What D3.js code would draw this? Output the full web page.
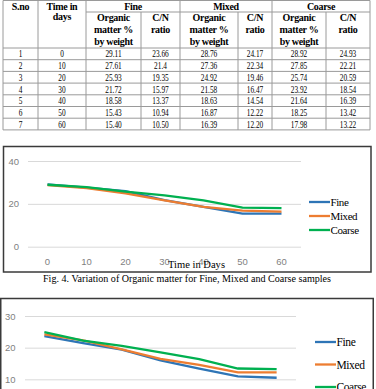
<!DOCTYPE html>
<html>
<head>
<meta charset="utf-8">
<script src="https://cdn.jsdelivr.net/npm/d3@7"></script>
<style>
  html, body { margin: 0; padding: 0; background: #fff; }
  svg { display: block; }
</style>
</head>
<body>
<svg id="page" width="376" height="389"></svg>
<script>
// table + chart values
const sno = [1, 2, 3, 4, 5, 6, 7]
const days = [0, 10, 20, 30, 40, 50, 60]
const fineOM = [29.11, 27.61, 25.93, 21.72, 18.58, 15.43, 15.40]
const fineCN = [23.66, 21.4, 19.35, 15.97, 13.37, 10.94, 10.50]
const mixedOM = [28.76, 27.36, 24.92, 21.58, 18.63, 16.87, 16.39]
const mixedCN = [24.17, 22.34, 19.46, 16.47, 14.54, 12.22, 12.20]
const coarseOM = [28.92, 27.85, 25.74, 23.92, 21.64, 18.25, 17.98]
const coarseCN = [24.93, 22.21, 20.59, 18.54, 16.39, 13.42, 13.22]
const seriesNames = ["Fine", "Mixed", "Coarse"]
const omTicks = [0, 20, 40]
const cnTicks = [10, 20, 30]

const colors = { Fine: "#2E75B6", Mixed: "#ED7D31", Coarse: "#00B050" }
const serif = "'Liberation Serif', 'Times New Roman', 'DejaVu Serif', serif"
const sans = "'Liberation Sans', Arial, sans-serif"

let svg = d3.select("#page")

/**
 * Table
 */
const colEdges = [3, 38, 86, 141, 180, 238, 272, 326, 370]
const headTop = 0.5, groupBottom = 12, headBottom = 48, rowH = 11.7
const tableBottom = headBottom + rowH * sno.length
let g_table = svg.append("g").attr("class", "table")

const cx = (i) => (colEdges[i] + colEdges[i + 1]) / 2

// lines
let vlines = colEdges.map((x, i) => {
  // inner lines between organic and C/N start below the group row
  let top = (i === 3 || i === 5 || i === 7) ? groupBottom : headTop
  return { x1: x, x2: x, y1: top, y2: tableBottom }
})
let hlines = [
  { x1: colEdges[0], x2: colEdges[8], y1: headTop, y2: headTop },
  { x1: colEdges[2], x2: colEdges[8], y1: groupBottom, y2: groupBottom },
]
for (let r = 0; r <= sno.length; r++) {
  let y = headBottom + r * rowH
  hlines.push({ x1: colEdges[0], x2: colEdges[8], y1: y, y2: y })
}
g_table.selectAll(".tline")
  .data(vlines.concat(hlines))
  .enter()
  .append("line")
  .attr("class", "tline")
  .attr("x1", (d) => d.x1).attr("x2", (d) => d.x2)
  .attr("y1", (d) => d.y1).attr("y2", (d) => d.y2)
  .attr("stroke", "#9a9a9a")
  .attr("stroke-width", 1)

// header texts
let headers = [
  { x: cx(0), y: 10, t: "S.no" },
  { x: cx(1), y: 9.5, t: "Time in" },
  { x: cx(1), y: 20, t: "days" },
  { x: (colEdges[2] + colEdges[4]) / 2, y: 9.5, t: "Fine" },
  { x: (colEdges[4] + colEdges[6]) / 2, y: 9.5, t: "Mixed" },
  { x: (colEdges[6] + colEdges[8]) / 2, y: 9.5, t: "Coarse" },
]
;[2, 4, 6].forEach((c) => {
  headers.push({ x: cx(c), y: 21, t: "Organic" })
  headers.push({ x: cx(c), y: 33, t: "matter %" })
  headers.push({ x: cx(c), y: 45, t: "by weight" })
  headers.push({ x: cx(c + 1), y: 21, t: "C/N" })
  headers.push({ x: cx(c + 1), y: 33, t: "ratio" })
})
g_table.selectAll(".thead")
  .data(headers)
  .enter()
  .append("text")
  .attr("class", "thead")
  .attr("x", (d) => d.x)
  .attr("y", (d) => d.y)
  .attr("text-anchor", "middle")
  .style("font-family", serif)
  .attr("font-weight", "bold")
  .attr("font-size", 10)
  .attr("letter-spacing", -0.3)
  .text((d) => d.t)

// body cells
const fmt = (v) => (v === 21.4 ? "21.4" : v.toFixed(2))
let cells = []
sno.forEach((s, r) => {
  let row = [String(s), String(days[r]), fmt(fineOM[r]), fmt(fineCN[r]),
    fmt(mixedOM[r]), fmt(mixedCN[r]), fmt(coarseOM[r]), fmt(coarseCN[r])]
  row.forEach((t, c) => cells.push({ x: cx(c), y: headBottom + r * rowH + 9.4, t: t }))
})
g_table.selectAll(".tcell")
  .data(cells)
  .enter()
  .append("text")
  .attr("class", "tcell")
  .attr("transform", (d) => `translate(${d.x},${d.y}) scale(0.7,1)`)
  .attr("text-anchor", "middle")
  .style("font-family", serif)
  .attr("font-size", 10.5)
  .text((d) => d.t)

/**
 * Line chart helper
 */
function drawChart(opt) {
  let g = svg.append("g").attr("class", "chart")

  g.append("rect")
    .attr("x", opt.frame[0]).attr("y", opt.frame[1])
    .attr("width", opt.frame[2]).attr("height", opt.frame[3])
    .attr("fill", "none")
    .attr("stroke", "#3a3a3a")
    .attr("stroke-width", 1.5)

  const xScale = d3.scalePoint()
    .domain(days)
    .range([opt.plotX[0], opt.plotX[1]])
    .padding(0.5)

  const yScale = d3.scaleLinear()
    .domain(opt.yDomain)
    .range(opt.yRange)

  // gridlines
  let y_grid = d3.axisLeft(yScale)
    .tickValues(opt.ticks)
    .tickSize(-(opt.plotX[1] - opt.plotX[0]))
    .tickFormat("")
  let gg = g.append("g")
    .attr("transform", `translate(${opt.plotX[0]},0)`)
    .call(y_grid)
  gg.select(".domain").remove()
  gg.selectAll("line").attr("stroke", "#d9d9d9").attr("stroke-width", 1)

  // y labels
  g.selectAll(".ylab")
    .data(opt.ticks)
    .enter()
    .append("text")
    .attr("class", "ylab")
    .attr("x", opt.yLabX)
    .attr("y", (d) => yScale(d) + 3.5)
    .attr("text-anchor", "end")
    .style("font-family", sans)
    .attr("font-size", 9.5)
    .attr("fill", "#7f7f7f")
    .text((d) => d)

  // x labels
  if (opt.xLabY) {
    g.selectAll(".xlab")
      .data(days)
      .enter()
      .append("text")
      .attr("class", "xlab")
      .attr("x", (d) => xScale(d))
      .attr("y", opt.xLabY)
      .attr("text-anchor", "middle")
      .style("font-family", sans)
      .attr("font-size", 9.5)
      .attr("fill", "#7f7f7f")
      .text((d) => d)
  }

  // lines
  const line = d3.line()
    .x((d) => xScale(d.x))
    .y((d) => yScale(d.y))
  let series = seriesNames.map((n, i) => ({
    name: n,
    pts: days.map((dd, j) => ({ x: dd, y: opt.values[i][j] })),
  }))
  g.selectAll(".series")
    .data(series)
    .enter()
    .append("path")
    .attr("class", "series")
    .attr("d", (d) => line(d.pts))
    .attr("fill", "none")
    .attr("stroke", (d) => colors[d.name])
    .attr("stroke-width", 2.3)

  // legend
  let items = g.selectAll(".legend_item")
    .data(seriesNames)
    .enter()
    .append("g")
    .attr("class", "legend_item")
    .attr("transform", (d, i) => `translate(${opt.legend.x},${opt.legend.y + i * opt.legend.step})`)
  items.append("line")
    .attr("x1", 0).attr("x2", 21)
    .attr("stroke", (d) => colors[d])
    .attr("stroke-width", 2.3)
  items.append("text")
    .attr("x", 21.5)
    .attr("y", 4)
    .style("font-family", serif)
    .attr("font-size", opt.legend.size)
    .attr("letter-spacing", -0.4)
    .text((d) => d)

  return g
}

let g1 = drawChart({
  frame: [3.5, 146.5, 367.5, 125.5],
  plotX: [28, 301],
  yDomain: [0, 40],
  yRange: [246.7, 161],
  ticks: omTicks,
  yLabX: 19,
  xLabY: 265,
  values: [fineOM, mixedOM, coarseOM],
  legend: { x: 309, y: 202, step: 14, size: 11 },
})

g1.append("text")
  .attr("x", 168)
  .attr("y", 268)
  .style("font-family", serif)
  .attr("font-size", 11)
  .attr("textLength", 57)
  .attr("lengthAdjust", "spacingAndGlyphs")
  .text("Time in Days")

svg.append("text")
  .attr("x", 43)
  .attr("y", 282)
  .style("font-family", serif)
  .attr("font-size", 10.5)
  .attr("textLength", 288)
  .attr("lengthAdjust", "spacingAndGlyphs")
  .text("Fig. 4. Variation of Organic matter for Fine, Mixed and Coarse samples")

drawChart({
  frame: [0.75, 298.5, 372.5, 120],
  plotX: [25, 296],
  yDomain: [0, 30],
  yRange: [411, 316],
  ticks: cnTicks,
  yLabX: 15.5,
  xLabY: null,
  values: [fineCN, mixedCN, coarseCN],
  legend: { x: 315, y: 342, step: 22.5, size: 11.5 },
})
</script>
</body>
</html>
